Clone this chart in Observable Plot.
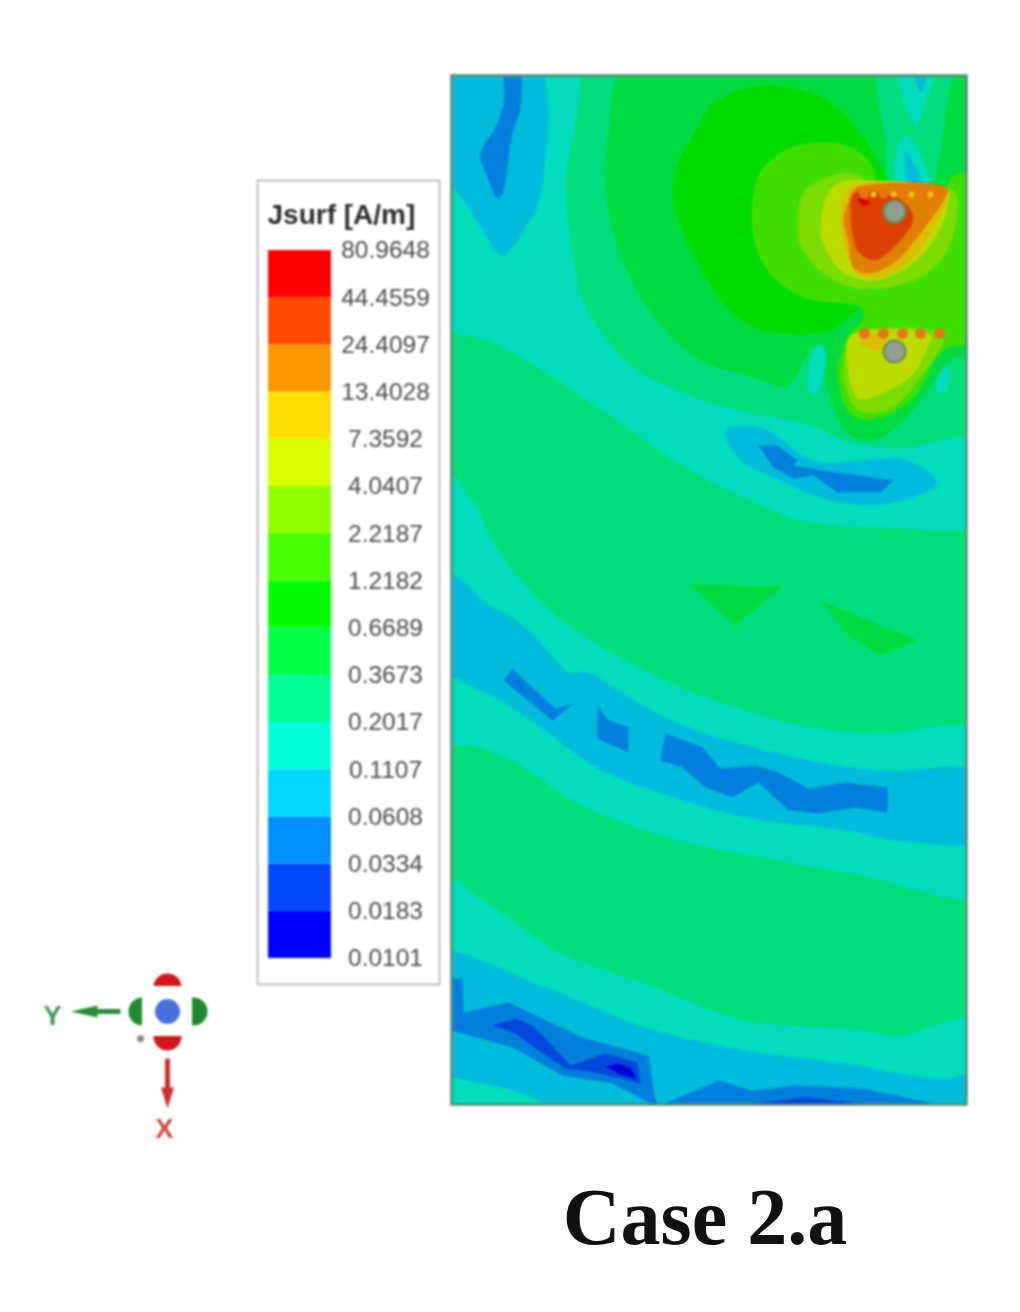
<!DOCTYPE html>
<html><head><meta charset="utf-8">
<script src="https://cdn.jsdelivr.net/npm/d3@7"></script>
<script src="https://cdn.jsdelivr.net/npm/@observablehq/plot@0.6"></script>
<style>
html,body{margin:0;background:#fff}
#page{position:relative;width:1020px;height:1312px;overflow:hidden;background:#fff}
#page>div.p{position:absolute}
#cap{position:absolute;left:405px;width:600px;top:1167px;text-align:center;font:bold 80px "Liberation Serif",serif;color:#111;line-height:100px}
</style></head><body><div id="page"></div>
<script>
// legend values, ascending
const levels=[0.0101,0.0183,0.0334,0.0608,0.1107,0.2017,0.3673,0.6689,1.2182,2.2187,4.0407,7.3592,13.4028,24.4097,44.4559,80.9648];
const levelLabels=["0.0101","0.0183","0.0334","0.0608","0.1107","0.2017","0.3673","0.6689","1.2182","2.2187","4.0407","7.3592","13.4028","24.4097","44.4559","80.9648"];
const legendColors=["#0000ff","#0048ff","#0090ff","#00d8ff","#00ffd8","#00ff90","#00ff48","#00ff00","#48ff00","#90ff00","#d8ff00","#ffde00","#ff9600","#ff4a00","#ff0000"];
const fieldColors=["#0000d4","#0048dc","#0080dc","#00bcdc","#00dcbc","#00de7c","#00dc40","#00dc00","#40de00","#7cdc00","#bcdc00","#dcbe00","#e08000","#dc4000","#d80000"];

// contour regions of the field, [lowest value of the band, outline points], painted low to high where nested
const regionBase=[0.2017,[[451,75],[967,75],[967,1104],[451,1104]]];
const regionTealUpper=[0.1107,[[451,75],[572,75],[565,190],[575,270],[582,300],[595,323],[632,367],[695,397],[740,410],[810,425],[850,442],[900,447],[967,440],[967,520],[880,527],[800,520],[760,505],[695,473],[612,417],[562,383],[495,343],[451,318]]];
const regionTealMiddle=[0.1107,[[451,460],[472,500],[492,540],[518,577],[558,617],[612,653],[695,693],[812,727],[878,733],[967,733],[967,893],[860,875],[778,860],[678,840],[578,803],[512,760],[478,747],[451,737]]];
const regionTealLower=[0.1107,[[451,875],[490,905],[555,950],[645,983],[745,1020],[845,1028],[905,1035],[928,1027],[967,1018],[967,1104],[451,1104]]];
const regionCyanMiddle=[0.0608,[[451,563],[465,583],[485,603],[512,617],[538,640],[558,663],[568,672],[588,672],[622,693],[678,723],[778,753],[878,770],[967,773],[967,837],[912,842],[845,830],[745,817],[662,793],[595,767],[545,730],[495,697],[465,683],[451,660]]];
const regionCyanLower=[0.0608,[[451,953],[545,987],[645,1027],[745,1050],[845,1063],[912,1075],[945,1078],[967,1073],[967,1104],[612,1104],[512,1090],[451,1063]]];
const regionCyanTop=[0.0608,[[451,75],[535,75],[538,203],[525,227],[502,255],[478,223],[458,193],[451,170]]];
const regionCyanWorm=[0.0608,[[725,430],[763,428],[813,460],[907,460],[937,483],[887,503],[830,500],[780,480],[740,460]]];
const regionBlueA=[0.0334,[[512,668],[503,680],[552,720],[573,703],[555,708],[522,678]]];
const regionBlueB=[0.0334,[[597,705],[597,738],[628,752],[628,727],[608,720]]];
const regionBlueC=[0.0334,[[665,733],[702,747],[720,768],[755,765],[778,772],[808,788],[845,782],[887,787],[887,812],[855,807],[818,813],[788,810],[758,782],[732,797],[705,787],[682,767],[660,760]]];
const regionBlueTop=[0.0334,[[505,75],[517,75],[520,107],[512,133],[502,193],[497,198],[487,177],[480,153],[495,127],[503,103]]];
const regionBlueWorm=[0.0334,[[758,445],[777,445],[797,460],[793,465],[823,470],[893,480],[880,492],[837,492],[813,475],[793,478],[773,467]]];
const regionBlueCorner=[0.0334,[[451,978],[462,978],[463,1012],[508,1002],[582,1037],[648,1055],[655,1100],[658,1104],[652,1104],[612,1083],[562,1075],[512,1047],[451,1030]]];
const regionBlueEdge=[0.0334,[[662,1104],[718,1080],[752,1090],[795,1085],[862,1088],[938,1104]]];
const regionDeepCorner=[0.0183,[[492,1025],[515,1018],[532,1025],[545,1038],[570,1065],[605,1053],[637,1062],[640,1083],[595,1072],[565,1068],[538,1050],[515,1033]]];
const regionDeepEdge=[0.0183,[[745,1104],[805,1097],[872,1104]]];
const regionDeepestCorner=[0.0101,[[605,1066],[618,1063],[630,1068],[636,1078],[620,1074]]];
const regionGreenPatchA=[0.3673,[[688,584],[782,586],[735,625]]];
const regionGreenPatchB=[0.3673,[[820,600],[918,640],[880,655],[848,635]]];
const regionGreenBig=[0.3673,[[630,75],[967,75],[967,350],[950,360],[925,395],[880,437],[850,435],[830,400],[815,345],[787,385],[747,375],[695,357],[642,300],[615,240],[605,190],[608,130]]];
const regionStreakGreen=[0.2017,[[880,75],[950,75],[945,110],[940,150],[930,185],[892,185],[885,140]]];
const regionStreakTealA=[0.1107,[[897,75],[937,75],[925,100],[915,125],[905,105]]];
const regionStreakTealB=[0.1107,[[903,135],[918,150],[928,188],[897,188]]];
const regionStreakCyan=[0.0608,[[913,75],[928,75],[920,93]]];
const regionStreakCyanLow=[0.0608,[[905,150],[910,188],[922,188]]];
const regionStreakBlue=[0.0334,[[909,187],[919,187],[914,180]]];
const regionStreakLeft=[0.1107,[[817,345],[808,390],[815,395],[825,350]]];
const regionStreakRight=[0.1107,[[940,395],[950,375],[945,365],[935,385]]];
const regionPure=[0.6689,[[713,103],[747,87],[797,88],[837,107],[867,143],[887,180],[890,190],[880,300],[867,303],[847,318],[830,330],[780,333],[745,323],[712,287],[675,210],[675,170],[695,130]]];
const regionLime=[1.2182,[[757,177],[770,160],[797,145],[847,145],[870,163],[880,188],[900,190],[945,190],[950,177],[967,175],[967,335],[943,350],[913,397],[880,417],[857,418],[847,410],[837,370],[847,337],[863,317],[860,307],[803,297],[767,270],[752,230]]];
const regionLeafUpper=[2.2187,[[798,237],[803,193],[827,177],[853,173],[870,183],[953,190],[957,210],[943,257],[913,280],[857,288],[823,273],[805,253]]];
const regionLeafLower=[2.2187,[[855,335],[942,335],[925,370],[890,408],[860,411],[848,395],[843,365]]];
const regionYellowGreenUpper=[4.0407,[[820,230],[827,193],[840,182],[867,180],[947,190],[947,207],[933,240],[907,267],[870,280],[840,270],[823,243]]];
const regionYellowGreenLower=[4.0407,[[850,335],[847,363],[857,397],[877,395],[913,373],[927,347],[930,335]]];
const regionYellowUpper=[7.3592,[[840,220],[843,197],[853,185],[940,187],[947,195],[933,227],[913,257],[880,277],[857,273],[843,243]]];
const regionYellowLower=[7.3592,[[863,335],[860,343],[880,350],[885,335]]];
const regionOrange=[13.4028,[[843,220],[850,197],[857,187],[947,188],[943,200],[920,233],[893,263],[867,273],[853,267],[847,237]]];
const regionRedOrange=[24.4097,[[850,213],[853,193],[897,197],[913,217],[897,243],[873,260],[857,250],[852,233]]];
const regionRed=[44.4559,[[857,198],[870,202],[863,205]]];

const smoothFirst=[regionGreenBig,regionStreakGreen,regionStreakTealA,regionStreakTealB,regionStreakCyan,regionStreakCyanLow,regionStreakBlue,regionStreakRight,regionTealUpper,regionTealMiddle,regionTealLower,regionCyanMiddle,regionCyanLower,regionCyanTop,regionCyanWorm,regionBlueTop];
const sharpSecond=[regionBlueA,regionBlueB,regionBlueC,regionBlueWorm,regionBlueCorner,regionBlueEdge,regionDeepCorner,regionDeepEdge,regionDeepestCorner,regionGreenPatchA,regionGreenPatchB];
const smoothLast=[regionStreakLeft,regionPure,regionLime,regionLeafUpper,regionLeafLower,regionYellowGreenUpper,regionYellowGreenLower,regionYellowUpper,regionYellowLower,regionOrange,regionRedOrange,regionRed];

// electrodes
const rodX=[894,894], rodY=[211,351];
const stripX=[864,883,902,920,939];
const stripUpperY=193, stripLowerY=333;
const gapX=[873,893,911,930];

const blurSoft={filter:"blur(1.2px)",background:"transparent",overflow:"visible"};
const blurText={filter:"blur(0.8px)",background:"transparent",overflow:"visible"};
const past=p=>[p[0]<=451?432:p[0]>=967?986:p[0],p[1]<=75?56:p[1]>=1104?1123:p[1]];
const band=r=>Plot.line(r[1],{x:d=>d[0],y:d=>d[1],fill:()=>r[0],stroke:"none",clip:true});
const bandSmooth=r=>Plot.line(r[1].map(past),{x:d=>d[0],y:d=>d[1],fill:()=>r[0],stroke:"none",clip:true,curve:"catmull-rom-closed"});
const thresholds=levels.slice(1,15);

const field=Plot.plot({width:516,height:1029,margin:0,style:blurSoft,
  x:{domain:[451,967],range:[0,516],axis:null},y:{domain:[1104,75],range:[1029,0],axis:null},
  color:{type:"threshold",domain:thresholds,range:fieldColors},
  marks:[
    band(regionBase),
    ...smoothFirst.map(bandSmooth),
    ...sharpSecond.map(band),
    ...smoothLast.map(bandSmooth),
    Plot.dot(stripX,{x:d=>d,y:()=>stripUpperY,r:5,fill:"#e8780c"}),
    Plot.dot(gapX,{x:d=>d,y:()=>stripUpperY+1,r:3,fill:"#f0c020"}),
    Plot.dot(stripX,{x:d=>d,y:()=>stripLowerY,r:5.5,fill:"#e07a18"}),
    Plot.dot(rodX,{x:d=>d,y:(d,i)=>rodY[i],r:11,fill:"#8f9d93",stroke:"#6f8a50",strokeWidth:2}),
    Plot.frame({stroke:"#5a8a72",strokeWidth:2.5,insetRight:1})
  ]});

const legendBands=legendColors.map((c,i)=>({low:levels[i],i}));
const legend=Plot.plot({width:184,height:806,margin:0,style:blurText,
  x:{domain:[256,440],range:[0,184],axis:null},y:{domain:[0,15],range:[779,71],axis:null},
  color:{type:"threshold",domain:thresholds,range:legendColors},
  marks:[
    Plot.frame({stroke:"#b8bcbc",strokeWidth:2,fill:"#fff",inset:1}),
    Plot.rect(legendBands,{x1:()=>268,x2:()=>331,y1:"i",y2:d=>d.i+1,fill:"low"}),
    Plot.text(levelLabels,{x:()=>385,y:(d,i)=>i,text:d=>d,fontSize:24.5,fontFamily:"Liberation Sans",fill:"#4c4c4c",textAnchor:"middle"}),
    Plot.text(["Jsurf [A/m]"],{x:()=>267,y:()=>15,dy:-35,text:d=>d,fontSize:28,fontWeight:"bold",fontFamily:"Liberation Sans",fill:"#2e2e2e",textAnchor:"start"})
  ]});

// orientation triad, offsets from its centre
const triadFlaps=[{x:0,y:-24,c:"#d01818"},{x:0,y:25,c:"#d01818"},{x:-25,y:0,c:"#208a30"},{x:26,y:0,c:"#208a30"}];
const arrowYShape=[[-47,-2.5],[-70,-2.5],[-70,-6],[-97,0],[-70,6],[-70,2.5],[-47,2.5]];
const arrowXShape=[[-2.5,47],[-2.5,76],[-6.5,76],[0,97],[6.5,76],[2.5,76],[2.5,47]];
const triad=Plot.plot({width:220,height:190,margin:0,style:blurText,
  x:{domain:[-137,83],range:[0,220],axis:null},y:{domain:[-51,139],range:[0,190],axis:null},
  marks:[
    Plot.dot(triadFlaps,{x:"x",y:"y",r:14,fill:"c"}),
    Plot.rect([0],{x1:()=>-25,x2:()=>25,y1:()=>-25,y2:()=>25,fill:"#fff"}),
    Plot.dot([0],{x:()=>0,y:()=>0,r:12.5,fill:"#4a70dc"}),
    Plot.dot([0],{x:()=>-27,y:()=>27,r:3.5,fill:"#888"}),
    Plot.line(arrowYShape,{x:d=>d[0],y:d=>d[1],fill:"#2a8a3a",stroke:"none"}),
    Plot.line(arrowXShape,{x:d=>d[0],y:d=>d[1],fill:"#c83030",stroke:"none"}),
    Plot.text(["Y"],{x:()=>-115,y:()=>5,text:d=>d,fontSize:27,fontWeight:"bold",fontFamily:"Liberation Sans",fill:"#3f9460"}),
    Plot.text(["X"],{x:()=>-3,y:()=>118,text:d=>d,fontSize:27,fontWeight:"bold",fontFamily:"Liberation Sans",fill:"#d04444"})
  ]});

const page=document.getElementById("page");
function place(node,left,top){const d=document.createElement("div");d.className="p";d.style.left=left+"px";d.style.top=top+"px";d.append(node);page.append(d);}
place(field,451,75);
place(legend,256,179);
place(triad,30,960);
const cap=document.createElement("div");cap.id="cap";cap.textContent="Case 2.a";page.append(cap);
</script></body></html>
